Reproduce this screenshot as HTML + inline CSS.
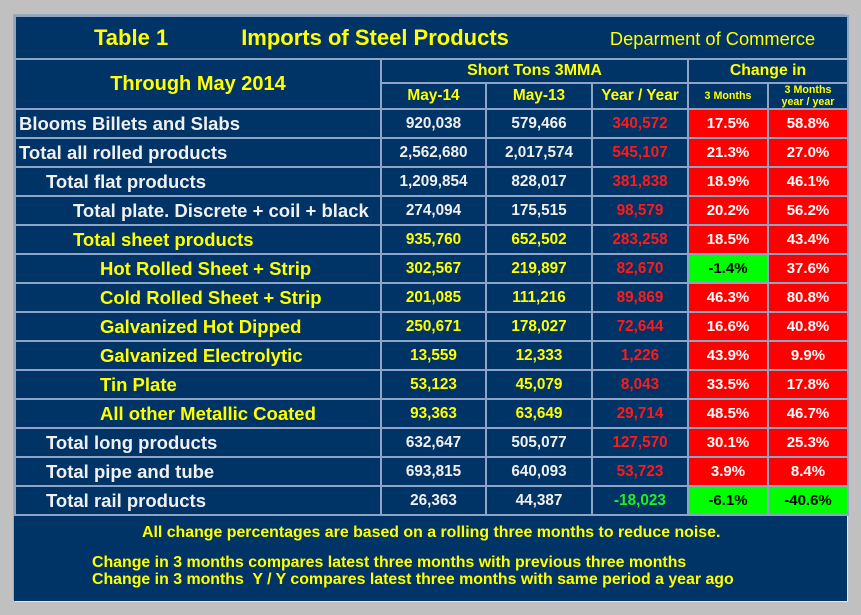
<!DOCTYPE html>
<html><head><meta charset="utf-8">
<style>
html,body{margin:0;padding:0;}
body{width:861px;height:615px;background:#c0c0c0;position:relative;overflow:hidden;font-family:"Liberation Sans",Arial,sans-serif;}
#panel{position:absolute;left:14px;top:15px;width:833px;height:586px;background:#003366;box-shadow:1px 1px 0 #e8e8e8,-1px -1px 0 #9aa8c0;}
table{position:absolute;left:14px;top:15px;border-collapse:collapse;table-layout:fixed;}
td{border:2px solid #8fa3c4;padding:0;font-weight:bold;color:#f0f0f0;text-align:center;overflow:hidden;white-space:nowrap;}
.title{height:41px;color:#ffff00;font-size:22px;text-align:left;}
.hdr{color:#ffff00;font-size:15.4px;}
.lab{text-align:left;font-size:18.5px;}
.num{font-size:15.3px;}
.pct{font-size:15px;}
.y{color:#ffff00;}
.r{color:#ff1a1a;}
.g{color:#22ee22;}
.rb{background:#ff0000;color:#fff;}
.gb{background:#00ff00;color:#000;}
tr.d td{height:27px;}
#foot{position:absolute;left:14px;top:514px;width:833px;height:87px;color:#ffff00;font-weight:bold;font-size:15.9px;}
</style></head><body>
<div id="panel"></div>
<table>
<colgroup><col style="width:366px"><col style="width:105px"><col style="width:106px"><col style="width:96px"><col style="width:80px"><col style="width:80px"></colgroup>
<tr><td colspan="6" class="title"><span style="margin-left:78px">Table 1</span><span style="margin-left:73px">Imports of Steel Products</span><span style="margin-left:101px;font-weight:normal;font-size:18.3px">Deparment of Commerce</span></td></tr>
<tr><td rowspan="2" class="hdr" style="font-size:20px;height:48px">Through May 2014</td><td colspan="3" class="hdr" style="height:22px;font-size:16px">Short Tons 3MMA</td><td colspan="2" class="hdr" style="font-size:15.8px">Change in</td></tr>
<tr><td class="hdr" style="height:24px">May-14</td><td class="hdr">May-13</td><td class="hdr">Year / Year</td><td class="hdr" style="font-size:10.7px">3 Months</td><td class="hdr" style="font-size:10.7px;line-height:12px">3 Months<br>year / year</td></tr>
<tbody id="body"></tbody>
</table>
<div id="foot">
<div style="position:absolute;left:128px;top:10px">All change percentages are based on a rolling three months to reduce noise.</div>
<div style="position:absolute;left:78px;top:40px">Change in 3 months compares latest three months with previous three months</div>
<div style="position:absolute;left:78px;top:57px">Change in 3 months&nbsp; Y / Y compares latest three months with same period a year ago</div>
</div>
<script>
const labels=["Blooms Billets and Slabs","Total all rolled products","Total flat products","Total plate. Discrete + coil + black","Total sheet products","Hot Rolled Sheet + Strip","Cold Rolled Sheet + Strip","Galvanized Hot Dipped","Galvanized Electrolytic","Tin Plate","All other Metallic Coated","Total long products","Total pipe and tube","Total rail products"];
const levels=[0,0,1,2,2,3,3,3,3,3,3,1,1,1];
const may14=["920,038","2,562,680","1,209,854","274,094","935,760","302,567","201,085","250,671","13,559","53,123","93,363","632,647","693,815","26,363"];
const may13=["579,466","2,017,574","828,017","175,515","652,502","219,897","111,216","178,027","12,333","45,079","63,649","505,077","640,093","44,387"];
const yoy=["340,572","545,107","381,838","98,579","283,258","82,670","89,869","72,644","1,226","8,043","29,714","127,570","53,723","-18,023"];
const chg3m=["17.5%","21.3%","18.9%","20.2%","18.5%","-1.4%","46.3%","16.6%","43.9%","33.5%","48.5%","30.1%","3.9%","-6.1%"];
const chg3mYoy=["58.8%","27.0%","46.1%","56.2%","43.4%","37.6%","80.8%","40.8%","9.9%","17.8%","46.7%","25.3%","8.4%","-40.6%"];
const yellowRows=[4,5,6,7,8,9,10];
const body=document.getElementById('body');
function cell(tr,txt,cls,name){const td=document.createElement('td');td.className=cls;td.textContent=txt;


tr.appendChild(td);return td;}
labels.forEach((l,i)=>{
 const tr=document.createElement('tr');tr.className='d';
 
 
 const y=yellowRows.includes(i)?' y':'';
 const lt=cell(tr,l,'lab'+y,'row-label');lt.style.paddingLeft=(3+levels[i]*27)+'px';
 cell(tr,may14[i],'num'+y,'may14-value');
 cell(tr,may13[i],'num'+y,'may13-value');
 cell(tr,yoy[i],'num '+(yoy[i].startsWith('-')?'g':'r'),'yoy-value');
 cell(tr,chg3m[i],'pct '+(chg3m[i].startsWith('-')?'gb':'rb'),'change-3m');
 cell(tr,chg3mYoy[i],'pct '+(chg3mYoy[i].startsWith('-')?'gb':'rb'),'change-3m-yoy');
 body.appendChild(tr);
});
</script>
</body></html>
